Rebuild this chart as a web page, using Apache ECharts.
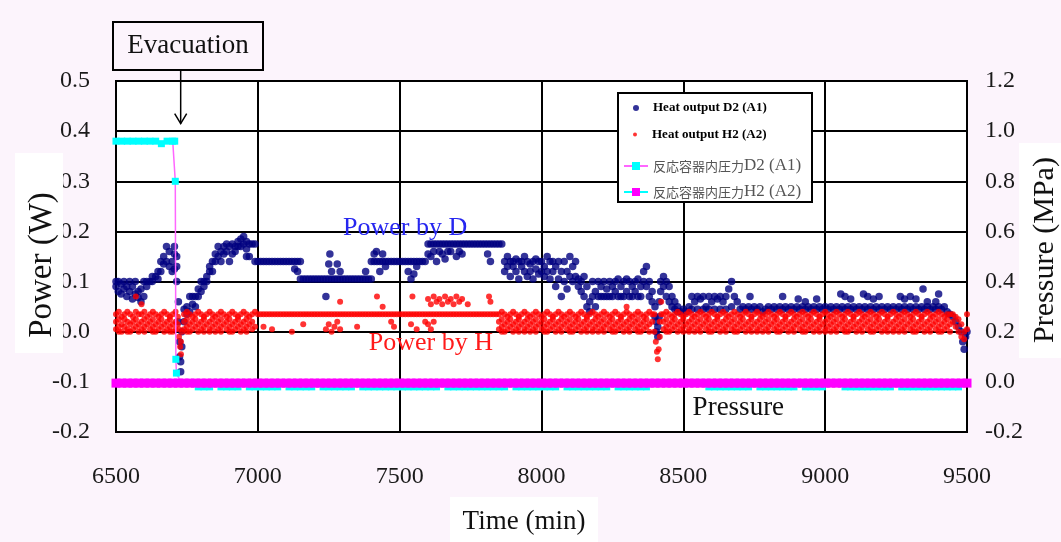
<!DOCTYPE html>
<html>
<head>
<meta charset="utf-8">
<script src="https://cdn.jsdelivr.net/npm/echarts/dist/echarts.min.js"></script>
<style>
html, body { margin: 0; padding: 0; background: #fcf4fc; }
#chart { width: 1061px; height: 542px; }
</style>
</head>
<body>
<div id="chart"></div>
<script>
// Series names as shown in the legend
const NAME_HEAT_D2 = 'Heat output D2 (A1)';
const NAME_HEAT_H2 = 'Heat output H2 (A2)';
const NAME_PRESS_D2 = '反応容器内圧力D2 (A1)';
const NAME_PRESS_H2 = '反応容器内圧力H2 (A2)';

// Axis ranges and tick steps
const timeTicks = [6500, 9500, 500];
const powerTicks = [-0.2, 0.5, 0.1];
const pressureTicks = [-0.2, 1.2, 0.2];

// Time of the evacuation (min)
const evacuationTime = 6728;

// Heat output of the D2 cell, W: [time (min), reading, reading, ...]
const heatD2 = [
  [6500,.100,.090],[6508,.100,.080],[6518,.095,.075],[6528,.100,.085],[6538,.090,.070],[6548,.100,.080],
  [6558,.090,.065],[6568,.075,.100],[6578,.080,.068],[6588,.060,.085],[6598,.070,.100],[6608,.100,.090],
  [6620,.100],[6628,.110,.100],[6640,.110],[6648,.120,.105],[6658,.140,.120],[6668,.150,.135],
  [6678,.170,.140],[6688,.160,.130],[6698,.140,.120],[6706,.155,.125,.170],[6714,.150,.100,.130],
  [6720,.060,.020],[6724,-.020,-.050],[6728,-.080,-.060],[6732,-.030,.000],
  [6740,.020,.045],[6750,.050,.035],[6760,.070,.040],[6770,.055,.070],[6780,.070,.050],[6790,.085,.070],
  [6800,.100,.080],[6810,.100,.090],[6820,.110,.100],[6830,.120,.130],[6840,.140,.120],[6850,.155,.140],
  [6860,.170,.150],[6870,.160,.140],[6880,.170,.155],[6890,.160,.175],[6900,.140,.170],[6910,.175,.155],
  [6920,.170,.160],[6930,.180,.170],[6940,.185,.170],[6950,.190,.175],[6960,.180,.165,.150],[6970,.175,.150],
  [6980,.175],[6990,.175,.140],
  [7000,.140],[7010,.140],[7020,.140],[7030,.140],[7040,.140],[7050,.140],[7060,.140],[7070,.140],
  [7080,.140],[7090,.140],[7100,.140],[7110,.140],[7120,.140],[7130,.140,.125],[7140,.140,.120],[7150,.140,.105],
  [7160,.105],[7170,.105],[7180,.105],[7190,.105],[7200,.105],[7210,.105],[7220,.105],[7230,.105],
  [7240,.105,.070],[7250,.105,.135],[7254,.155],[7260,.105,.120],[7270,.105],[7280,.105,.135],[7290,.105,.120],
  [7300,.105],[7310,.105],[7320,.105],[7330,.105],[7340,.105],[7350,.105],[7360,.105],[7370,.105],
  [7380,.105,.120],[7390,.105],[7400,.105,.140],[7410,.140,.155],[7418,.160],
  [7420,.140],[7430,.140,.120],[7440,.140,.155],[7450,.140,.130],[7460,.140],[7470,.140],[7480,.140],
  [7490,.140],[7500,.140],[7510,.140],[7520,.140],[7530,.140,.120],[7540,.140,.105],[7550,.140,.115],
  [7560,.140,.130],[7570,.140],[7580,.140],[7590,.140],
  [7600,.175,.155],[7610,.175,.150],[7620,.175,.160],[7630,.175,.140],[7640,.175,.160],[7650,.175,.155],
  [7660,.175,.145],[7670,.175,.160],[7680,.175,.160],[7690,.175],[7700,.175,.150],[7710,.175,.160],
  [7720,.175,.155],[7730,.175],[7740,.175],[7750,.175],[7760,.175],[7770,.175],[7780,.175],[7790,.175],
  [7800,.175],[7810,.175,.155],[7820,.175,.140],[7830,.175],[7840,.175],[7850,.175],[7860,.175],
  [7870,.140,.120],[7880,.150,.130],[7890,.140,.110],[7900,.130,.140],[7910,.145,.120],[7920,.140,.105],
  [7930,.130,.140],[7940,.150,.120],[7950,.140,.110],[7960,.135,.120],[7970,.140,.105],[7980,.125,.145],
  [7990,.140,.115],[8000,.140,.120],[8010,.130,.110],[8020,.150,.120],[8030,.140,.105],[8040,.120,.140],
  [8050,.090,.130],[8060,.105,.140],[8070,.070,.120],[8080,.140,.100],[8090,.120,.085],[8100,.150,.110],
  [8110,.130,.100],[8120,.110,.140],[8130,.105,.090],
  [8140,.100,.080],[8150,.070,.110],[8160,.090,.050],[8170,.060,.040],[8180,.100,.070],[8190,.080,.050],
  [8200,.070,.100],[8210,.070,.090],[8220,.100,.070],[8230,.085,.070],[8240,.100,.070],[8250,.070,.090],
  [8260,.100,.080],[8270,.070,.105],[8280,.090,.070],[8290,.100,.070],[8300,.080,.105],[8310,.070,.100],
  [8320,.090,.070],[8330,.100,.080],[8340,.070,.105],[8350,.090,.070],[8360,.100,.120],[8370,.130,.090],
  [8380,.100,.070],[8390,.080,.060],
  [8400,.050,.030],[8405,.020,.000],[8410,-.010,.010],[8415,.030,.060],
  [8420,.100,.080],[8430,.110,.090],[8440,.100,.070],[8450,.090,.060],[8460,.070,.050],[8470,.060,.045],
  [8480,.050,.040],[8490,.040],
  [8500,.045],[8510,.040],[8520,.050],[8530,.070,.045],[8540,.060],[8550,.070,.045],[8560,.065],
  [8570,.070,.045],[8580,.050],[8590,.070,.045],[8600,.060],[8610,.070,.045],[8620,.065],[8630,.070,.045],
  [8640,.060],[8650,.070,.045],[8660,.085],[8670,.100,.050],[8680,.070],[8690,.060],
  [8700,.045],[8710,.050],[8720,.045],[8730,.050],[8735,.070],[8740,.045],[8750,.050],[8760,.045],
  [8770,.050],[8780,.040],[8790,.045],[8800,.050],[8810,.045],[8820,.050],[8830,.045],[8840,.050],
  [8850,.070,.045],[8860,.050],[8870,.045],[8880,.050],[8890,.045],[8900,.050],[8905,.065],[8910,.045],
  [8920,.050],[8930,.060,.045],[8940,.050],[8950,.045],[8960,.050],[8970,.065,.045],[8980,.050],
  [8990,.045],[9000,.050],[9010,.045],[9020,.050],[9030,.045],[9040,.050],[9050,.045],[9055,.075],
  [9060,.050],[9070,.070,.045],[9080,.050],[9090,.065,.045],[9100,.050],[9110,.045],[9120,.050],
  [9130,.045],[9135,.075],[9140,.050],[9150,.070,.045],[9160,.050],[9170,.065,.045],[9180,.050],
  [9190,.070,.045],[9200,.050],[9210,.045],[9220,.050],[9230,.045],[9240,.050],[9250,.045],[9260,.050],
  [9265,.070],[9270,.045],[9280,.065,.050],[9290,.045],[9300,.070,.050],[9310,.045],[9320,.065,.050],
  [9330,.045],[9340,.050],[9345,.085],[9350,.045],[9360,.060,.050],[9370,.045],[9380,.050],
  [9390,.060,.045],[9400,.075,.050],[9410,.045],[9420,.050],[9430,.040],[9440,.035],[9450,.030],
  [9460,.020],[9470,.010],[9480,.000],[9485,-.020],[9490,-.035],[9495,-.010],[9500,.000]
];

// Heat output of the H2 cell, W: [time (min), reading, reading, ...]
const heatH2 = [
  [6500,.035,.020,.005],[6510,.040,.025,.010,.000],[6520,.030,.015,.000],[6530,.035,.025,.010],
  [6540,.040,.020,.005,.000],[6550,.035,.015,.000],[6560,.030,.020,.005],[6570,.040,.070,.025,.010],
  [6580,.035,.015,.000],[6590,.035,.055,.020,.005],[6600,.040,.025,.010,.000],[6610,.030,.015],
  [6620,.035,.020,.005],[6630,.040,.025,.010,.000],[6640,.035,.015,.000],[6650,.030,.020,.005],
  [6660,.035,.025,.010],[6670,.040,.015,.000],[6680,.035,.020,.005],[6690,.030,.025,.010,.000],
  [6700,.035,.015,.000],[6710,.040,.020,.005],
  [6718,.030,.015],[6722,.005,-.010],[6726,-.030],[6729,-.045,-.020],[6733,.000],
  [6740,.035,.020,.005],[6750,.040,.025,.010,.000],[6760,.035,.015,.000],[6770,.030,.020,.005],
  [6780,.035,.025,.010],[6790,.040,.015,.000],[6800,.035,.020,.005],[6810,.030,.025,.010,.000],
  [6820,.035,.015],[6830,.040,.020,.005,.000],[6840,.035,.025,.010],[6850,.030,.015,.000],
  [6860,.035,.020,.005],[6870,.040,.025,.010,.000],[6880,.035,.015],[6890,.030,.020,.005],
  [6900,.035,.025,.010,.000],[6910,.040,.015,.000],[6920,.035,.020,.005],[6930,.030,.025,.010],
  [6940,.035,.015,.000],[6950,.040,.020,.005],[6960,.035,.025,.010,.000],[6970,.030,.015],
  [6980,.035,.020,.005],[6990,.040,.010],
  [7000,.035],[7010,.035],[7020,.035,.010],[7030,.035],[7040,.035],[7050,.035,.005],[7060,.035],
  [7070,.035],[7080,.035],[7090,.035],[7100,.035],[7110,.035],[7120,.035,.000],[7130,.035],[7140,.035],
  [7150,.035],[7160,.035,.015],[7170,.035],[7180,.035],[7190,.035],[7200,.035],[7210,.035],[7220,.035],
  [7230,.035],[7240,.035,.005],[7250,.035,.015],[7260,.035,.000],[7270,.035,.010],[7280,.035,.020],
  [7290,.035,.060,.005],[7300,.035],[7310,.035],[7320,.035],[7330,.035],[7340,.035],[7350,.035,.010],
  [7360,.035],[7370,.035],[7380,.035],[7390,.035],[7400,.035],[7410,.035],[7420,.035,.070],[7430,.035],
  [7440,.035,.050],[7450,.035],[7460,.035],[7470,.035,.020],[7480,.035,.010],[7490,.035],[7500,.035],
  [7510,.035],[7520,.035],[7530,.035],[7540,.035,.015],[7545,.070],[7550,.035],[7560,.035,.005],
  [7570,.035],[7580,.035],[7590,.035,.020],
  [7600,.035,.065,.015],[7610,.035,.055,.005],[7620,.035,.070,.020],[7630,.035,.060],[7640,.035,.065],
  [7650,.035,.055],[7660,.035,.070],[7670,.035,.060],[7680,.035,.065],[7690,.035,.055],[7700,.035,.070],
  [7710,.035,.060],[7720,.035,.065],[7730,.035],[7740,.035,.055],[7750,.035],[7760,.035],[7770,.035],
  [7780,.035],[7790,.035],[7800,.035],[7810,.035],[7815,.070],[7820,.035,.060],[7830,.035],[7840,.035],
  [7850,.035,.020,.005],[7860,.040,.025,.010,.000],[7870,.035,.015,.000],[7880,.030,.020,.005],
  [7890,.035,.025,.010],[7900,.040,.015,.000],[7910,.035,.020,.005],[7920,.030,.025,.010,.000],
  [7930,.035,.015],[7940,.040,.020,.005,.000],[7950,.035,.025,.010],[7960,.030,.015,.000],
  [7970,.035,.020,.005],[7980,.040,.025,.010,.000],[7990,.035,.015],[8000,.030,.020,.005],
  [8010,.035,.025,.010,.000],[8020,.040,.015,.000],[8030,.035,.020,.005],[8040,.030,.025,.010],
  [8050,.035,.015,.000],[8060,.040,.020,.005],[8070,.035,.025,.010,.000],[8080,.030,.015],
  [8090,.035,.020,.005],[8100,.040,.025,.010,.000],[8110,.035,.015,.000],[8120,.030,.020,.005],
  [8130,.035,.025,.010],[8140,.040,.015,.000],[8150,.035,.020,.005],[8160,.030,.025,.010,.000],
  [8170,.035,.015],[8180,.040,.020,.005,.000],[8190,.035,.025,.010],[8200,.030,.015,.000],
  [8210,.035,.020,.005],[8220,.040,.025,.010,.000],[8230,.035,.015],[8240,.030,.020,.005],
  [8250,.035,.025,.010,.000],[8260,.040,.015,.000],[8270,.035,.020,.005],[8280,.030,.025,.010],
  [8290,.035,.015,.000],[8300,.040,.050,.020,.005],[8310,.035,.025,.010,.000],[8320,.030,.015],
  [8330,.035,.020,.005],[8340,.040,.025,.010,.000],[8350,.035,.015,.000],[8360,.030,.020,.005],
  [8370,.035,.025,.010],[8380,.040,.015,.000],[8390,.035,.020],
  [8398,.035,.000],[8403,-.020],[8407,-.040],[8410,-.055],[8413,-.035],[8417,-.010,.020],[8422,.060,.035],
  [8430,.035,.020,.005],[8440,.040,.025,.010,.000],[8450,.035,.015,.000],[8460,.030,.020,.005],
  [8470,.035,.025,.010],[8480,.040,.015,.000],[8490,.035,.020,.005],[8500,.030,.025,.010,.000],
  [8510,.035,.015],[8520,.040,.020,.005,.000],[8530,.035,.025,.010],[8540,.030,.015,.000],
  [8550,.035,.020,.005],[8560,.040,.025,.010,.000],[8570,.035,.015],[8580,.030,.020,.005],
  [8590,.035,.025,.010,.000],[8600,.040,.015,.000],[8610,.035,.020,.005],[8620,.030,.025,.010],
  [8630,.035,.015,.000],[8640,.040,.020,.005],[8650,.035,.025,.010,.000],[8660,.030,.015],
  [8670,.035,.020,.005],[8680,.040,.025,.010,.000],[8690,.035,.015,.000],[8700,.030,.020,.005],
  [8710,.035,.025,.010],[8720,.040,.015,.000],[8730,.035,.020,.005],[8740,.030,.025,.010,.000],
  [8750,.035,.015],[8760,.040,.020,.005,.000],[8770,.035,.025,.010],[8780,.030,.015,.000],
  [8790,.035,.020,.005],[8800,.040,.025,.010,.000],[8810,.035,.015],[8820,.030,.020,.005],
  [8830,.035,.025,.010,.000],[8840,.040,.015,.000],[8850,.035,.020,.005],[8860,.030,.025,.010],
  [8870,.035,.015,.000],[8880,.040,.020,.005],[8890,.035,.025,.010,.000],[8900,.030,.015],
  [8910,.035,.020,.005],[8920,.040,.025,.010,.000],[8930,.035,.015,.000],[8940,.030,.020,.005],
  [8950,.035,.025,.010],[8960,.040,.015,.000],[8970,.035,.020,.005],[8980,.030,.025,.010,.000],
  [8990,.035,.015],[9000,.040,.020,.005,.000],[9010,.035,.025,.010],[9020,.030,.015,.000],
  [9030,.035,.020,.005],[9040,.040,.025,.010,.000],[9050,.035,.015],[9060,.030,.020,.005],
  [9070,.035,.025,.010,.000],[9080,.040,.015,.000],[9090,.035,.020,.005],[9100,.030,.025,.010],
  [9110,.035,.015,.000],[9120,.040,.020,.005],[9130,.035,.025,.010,.000],[9140,.030,.015],
  [9150,.035,.020,.005],[9160,.040,.025,.010,.000],[9170,.035,.015,.000],[9180,.030,.020,.005],
  [9190,.035,.025,.010],[9200,.040,.015,.000],[9210,.035,.020,.005],[9220,.030,.025,.010,.000],
  [9230,.035,.015],[9240,.040,.020,.005,.000],[9250,.035,.025,.010],[9260,.030,.015,.000],
  [9270,.035,.020,.005],[9280,.040,.025,.010,.000],[9290,.035,.015],[9300,.030,.020,.005],
  [9310,.035,.025,.010,.000],[9320,.040,.015,.000],[9330,.035,.020,.005],[9340,.030,.025,.010],
  [9350,.035,.015,.000],[9360,.040,.020,.005],[9370,.035,.025,.010,.000],[9380,.030,.015],
  [9390,.035,.020,.005],[9400,.040,.025,.010,.000],[9410,.035,.015,.000],[9420,.030,.020,.005],
  [9430,.035,.025,.010],[9440,.035,.015,.000],
  [9450,.035,.020],[9460,.030,.010],[9470,.025,.000],[9480,.015,-.010],[9490,.000,-.015],[9500,.035,.005]
];

// Reactor vessel pressure of the D2 cell, MPa: [time (min), pressure]
const pressureD2 = [
  [6500,.96],[6520,.96],[6540,.96],[6560,.96],[6580,.96],[6600,.96],[6620,.96],[6640,.96],[6660,.95],
  [6680,.96],[6700,.96],[6707,.96],[6709,.80],[6711,.09],[6713,.035],[6730,-.005],[6750,-.005],[6770,-.005],
  [6790,-.02],[6810,-.02],[6830,-.02],[6850,-.005],[6870,-.02],[6890,-.02],[6910,-.02],[6930,-.02],
  [6950,-.005],[6970,-.02],[6990,-.02],[7010,-.02],[7030,-.02],[7050,-.02],[7070,-.02],[7090,-.005],
  [7110,-.02],[7130,-.02],[7150,-.02],[7170,-.02],[7190,-.02],[7210,-.005],[7230,-.02],[7250,-.02],
  [7270,-.02],[7290,-.02],[7310,-.02],[7330,-.02],[7350,-.005],[7370,-.02],[7390,-.02],[7410,-.02],
  [7430,-.02],[7450,-.02],[7470,-.02],[7490,-.02],[7510,-.02],[7530,-.02],[7550,-.02],[7570,-.02],
  [7590,-.02],[7610,-.02],[7630,-.02],[7650,-.005],[7670,-.02],[7690,-.02],[7710,-.02],[7730,-.02],
  [7750,-.02],[7770,-.02],[7790,-.02],[7810,-.02],[7830,-.02],[7850,-.02],[7870,-.02],[7890,-.005],
  [7910,-.02],[7930,-.02],[7950,-.02],[7970,-.02],[7990,-.02],[8010,-.02],[8030,-.02],[8050,-.02],
  [8070,-.005],[8090,-.02],[8110,-.02],[8130,-.02],[8150,-.02],[8170,-.02],[8190,-.02],[8210,-.02],
  [8230,-.02],[8250,-.005],[8270,-.02],[8290,-.02],[8310,-.02],[8330,-.02],[8350,-.02],[8370,-.02],
  [8390,-.005],[8410,-.005],[8430,-.005],[8450,-.005],[8470,-.005],[8490,-.005],[8510,-.005],[8530,-.005],
  [8550,-.005],[8570,-.005],[8590,-.02],[8610,-.02],[8630,-.02],[8650,-.02],[8670,-.02],[8690,-.02],
  [8710,-.02],[8730,-.02],[8750,-.005],[8770,-.02],[8790,-.02],[8810,-.02],[8830,-.02],[8850,-.02],
  [8870,-.02],[8890,-.02],[8910,-.005],[8930,-.02],[8950,-.02],[8970,-.02],[8990,-.02],[9010,-.005],
  [9030,-.005],[9050,-.005],[9070,-.02],[9090,-.02],[9110,-.02],[9130,-.02],[9150,-.02],[9170,-.02],
  [9190,-.02],[9210,-.02],[9230,-.02],[9250,-.005],[9270,-.02],[9290,-.02],[9310,-.02],[9330,-.02],
  [9350,-.02],[9370,-.02],[9390,-.02],[9410,-.02],[9430,-.02],[9450,-.02],[9470,-.02],[9490,-.005],
  [9500,-.005]
];

// Reactor vessel pressure of the H2 cell, MPa: [time (min), pressure]
const pressureH2 = [
  [6500,-.005],[6520,-.005],[6540,-.005],[6560,-.005],[6580,-.005],[6600,-.005],[6620,-.005],[6640,-.005],
  [6660,-.005],[6680,-.005],[6700,-.005],[6720,-.005],[6740,-.005],[6760,-.005],[6780,-.005],[6800,-.005],
  [6820,-.005],[6840,-.005],[6860,-.005],[6880,-.005],[6900,-.005],[6920,-.005],[6940,-.005],[6960,-.005],
  [6980,-.005],[7000,-.005],[7020,-.005],[7040,-.005],[7060,-.005],[7080,-.005],[7100,-.005],[7120,-.005],
  [7140,-.005],[7160,-.005],[7180,-.005],[7200,-.005],[7220,-.005],[7240,-.005],[7260,-.005],[7280,-.005],
  [7300,-.005],[7320,-.005],[7340,-.005],[7360,-.005],[7380,-.005],[7400,-.005],[7420,-.005],[7440,-.005],
  [7460,-.005],[7480,-.005],[7500,-.005],[7520,-.005],[7540,-.005],[7560,-.005],[7580,-.005],[7600,-.005],
  [7620,-.005],[7640,-.005],[7660,-.005],[7680,-.005],[7700,-.005],[7720,-.005],[7740,-.005],[7760,-.005],
  [7780,-.005],[7800,-.005],[7820,-.005],[7840,-.005],[7860,-.005],[7880,-.005],[7900,-.005],[7920,-.005],
  [7940,-.005],[7960,-.005],[7980,-.005],[8000,-.005],[8020,-.005],[8040,-.005],[8060,-.005],[8080,-.005],
  [8100,-.005],[8120,-.005],[8140,-.005],[8160,-.005],[8180,-.005],[8200,-.005],[8220,-.005],[8240,-.005],
  [8260,-.005],[8280,-.005],[8300,-.005],[8320,-.005],[8340,-.005],[8360,-.005],[8380,-.005],[8400,-.005],
  [8420,-.005],[8440,-.005],[8460,-.005],[8480,-.005],[8500,-.005],[8520,-.005],[8540,-.005],[8560,-.005],
  [8580,-.005],[8600,-.005],[8620,-.005],[8640,-.005],[8660,-.005],[8680,-.005],[8700,-.005],[8720,-.005],
  [8740,-.005],[8760,-.005],[8780,-.005],[8800,-.005],[8820,-.005],[8840,-.005],[8860,-.005],[8880,-.005],
  [8900,-.005],[8920,-.005],[8940,-.005],[8960,-.005],[8980,-.005],[9000,-.005],[9020,-.005],[9040,-.005],
  [9060,-.005],[9080,-.005],[9100,-.005],[9120,-.005],[9140,-.005],[9160,-.005],[9180,-.005],[9200,-.005],
  [9220,-.005],[9240,-.005],[9260,-.005],[9280,-.005],[9300,-.005],[9320,-.005],[9340,-.005],[9360,-.005],
  [9380,-.005],[9400,-.005],[9420,-.005],[9440,-.005],[9460,-.005],[9480,-.005],[9500,-.005]
];

const SERIF = '"Liberation Serif", "Times New Roman", serif';
const CJK = '"Noto Sans CJK JP", "Noto Sans CJK SC", sans-serif';
const PAGE_BG = '#fcf4fc';

// Expand [time, v1, v2, ...] rows into scatter points
const toPoints = rows => rows.flatMap(([t, ...vs]) => vs.map(v => [t, v]));
const oneDecimal = v => v.toFixed(1);

const tickLabel = (margin) => ({
  fontFamily: SERIF, fontSize: 24, color: '#1a1a1a', margin: margin, formatter: oneDecimal
});

const legendBase = {
  orient: 'horizontal', padding: 0, itemWidth: 24, selectedMode: false, itemGap: 0
};
const latinLegendText = { fontFamily: SERIF, fontWeight: 'bold', fontSize: 13, color: '#000', lineHeight: 16 };
const cjkLegendText = {
  lineHeight: 18,
  rich: {
    c: { fontFamily: CJK, fontSize: 13, color: '#555', lineHeight: 18 },
    l: { fontFamily: SERIF, fontSize: 17, color: '#555', lineHeight: 18 }
  }
};
const cjkFormatter = name => name.replace(/^(.*?)([A-Z].*)$/, '{c|$1}{l|$2}');

const chart = echarts.init(document.getElementById('chart'));

chart.setOption({
  animation: false,
  backgroundColor: PAGE_BG,
  grid: {
    left: 116, right: 94, top: 81, bottom: 110,
    containLabel: false, outerBoundsMode: 'none',
    show: true, backgroundColor: '#ffffff', borderColor: '#000', borderWidth: 2
  },
  xAxis: {
    type: 'value', min: timeTicks[0], max: timeTicks[1], interval: timeTicks[2],
    axisLine: { show: false }, axisTick: { show: false },
    splitLine: { show: true, lineStyle: { color: '#000', width: 2 } },
    axisLabel: { fontFamily: SERIF, fontSize: 24, color: '#1a1a1a', margin: 33, formatter: v => String(v) }
  },
  yAxis: [
    {
      type: 'value', min: powerTicks[0], max: powerTicks[1], interval: powerTicks[2],
      axisLine: { show: false }, axisTick: { show: false },
      splitLine: { show: true, lineStyle: { color: '#000', width: 2 } },
      axisLabel: tickLabel(26)
    },
    {
      type: 'value', position: 'right', min: pressureTicks[0], max: pressureTicks[1], interval: pressureTicks[2],
      axisLine: { show: false }, axisTick: { show: false }, splitLine: { show: false },
      axisLabel: tickLabel(18)
    }
  ],
  legend: [
    Object.assign({}, legendBase, { data: [NAME_HEAT_D2], left: 633, top: 100, itemHeight: 6, textStyle: latinLegendText }),
    Object.assign({}, legendBase, { data: [NAME_HEAT_H2], left: 633, top: 126.5, itemHeight: 4, textStyle: latinLegendText }),
    Object.assign({}, legendBase, { data: [NAME_PRESS_D2], left: 623, top: 157, itemHeight: 10, textStyle: cjkLegendText, formatter: cjkFormatter }),
    Object.assign({}, legendBase, { data: [NAME_PRESS_H2], left: 623, top: 183, itemHeight: 10, textStyle: cjkLegendText, formatter: cjkFormatter })
  ],
  series: [
    {
      name: NAME_HEAT_D2, type: 'scatter', data: toPoints(heatD2),
      symbol: 'circle', symbolSize: 7.5, itemStyle: { color: '#000080' }, silent: true, z: 2
    },
    {
      name: NAME_HEAT_H2, type: 'scatter', data: toPoints(heatH2),
      symbol: 'circle', symbolSize: 6, itemStyle: { color: '#ff0000' }, silent: true, z: 3
    },
    {
      name: NAME_PRESS_D2, type: 'line', yAxisIndex: 1, data: pressureD2,
      symbol: 'rect', symbolSize: 7, showAllSymbol: true,
      itemStyle: { color: '#00ffff' }, lineStyle: { color: '#ff66ff', width: 1.5 }, silent: true, z: 4
    },
    {
      name: NAME_PRESS_H2, type: 'line', yAxisIndex: 1, data: pressureH2,
      symbol: 'rect', symbolSize: 9, showAllSymbol: true,
      itemStyle: { color: '#ff00ff' }, lineStyle: { color: '#00ffff', width: 1.5 }, silent: true, z: 5
    }
  ]
});

// Annotations placed through the axes
const px = (t, v) => chart.convertToPixel({ xAxisIndex: 0, yAxisIndex: 0 }, [t, v]);
const arrowTip = px(evacuationTime, 0.415);
const powerD = px(7519, 0.207);
const powerH = px(7610, -0.0225);
const pressureLbl = px(8694, -0.152);

const label = (pos, text, color, size) => ({
  type: 'text', x: pos[0], y: pos[1], z: 20, silent: true,
  style: { text: text, fill: color, font: size + 'px ' + SERIF, align: 'center', verticalAlign: 'middle' }
});

chart.setOption({
  graphic: [
    // axis titles on white panels
    { type: 'rect', z: 10, silent: true, shape: { x: 15, y: 153, width: 48, height: 200 }, style: { fill: '#fff' } },
    { type: 'text', z: 11, silent: true, x: 42, y: 265, rotation: Math.PI / 2,
      style: { text: 'Power (W)', fill: '#111', font: '33px ' + SERIF, align: 'center', verticalAlign: 'middle' } },
    { type: 'rect', z: 10, silent: true, shape: { x: 1019, y: 143, width: 42, height: 215 }, style: { fill: '#fff' } },
    { type: 'text', z: 11, silent: true, x: 1045, y: 250, rotation: Math.PI / 2,
      style: { text: 'Pressure (MPa)', fill: '#111', font: '30px ' + SERIF, align: 'center', verticalAlign: 'middle' } },
    { type: 'rect', z: 10, silent: true, shape: { x: 450, y: 497, width: 148, height: 45 }, style: { fill: '#fff' } },
    { type: 'text', z: 11, silent: true, x: 524, y: 522,
      style: { text: 'Time (min)', fill: '#111', font: '27px ' + SERIF, align: 'center', verticalAlign: 'middle' } },
    // legend frame
    { type: 'rect', z: 3, silent: true, shape: { x: 618, y: 93, width: 194, height: 109 },
      style: { fill: '#fff', stroke: '#000', lineWidth: 2 } },
    // evacuation call-out
    { type: 'rect', z: 10, silent: true, shape: { x: 113, y: 22, width: 150, height: 48 },
      style: { fill: PAGE_BG, stroke: '#000', lineWidth: 2 } },
    { type: 'text', z: 11, silent: true, x: 188, y: 46,
      style: { text: 'Evacuation', fill: '#111', font: '27px ' + SERIF, align: 'center', verticalAlign: 'middle' } },
    { type: 'line', z: 11, silent: true, shape: { x1: arrowTip[0], y1: 70, x2: arrowTip[0], y2: arrowTip[1] },
      style: { stroke: '#000', lineWidth: 1.5 } },
    { type: 'polyline', z: 11, silent: true,
      shape: { points: [[arrowTip[0] - 6, arrowTip[1] - 10], [arrowTip[0], arrowTip[1]], [arrowTip[0] + 6, arrowTip[1] - 10]] },
      style: { stroke: '#000', lineWidth: 1.5, fill: null } },
    // series call-outs
    label(powerD, 'Power by D', '#2626f0', 26),
    label(powerH, 'Power by H', '#ff1a1a', 26),
    label(pressureLbl, 'Pressure', '#111', 27)
  ]
});
</script>
</body>
</html>
